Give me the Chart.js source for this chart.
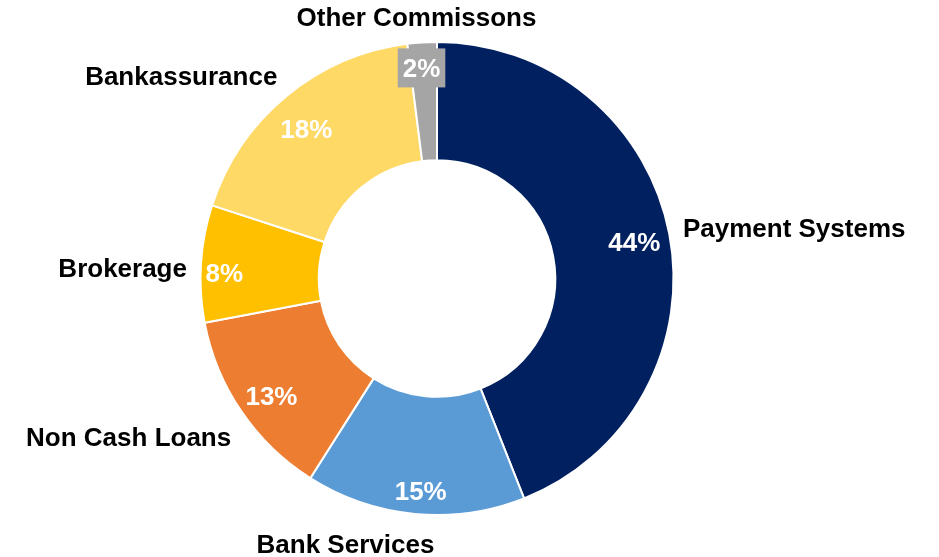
<!DOCTYPE html>
<html>
<head>
<meta charset="utf-8">
<script src="https://cdn.jsdelivr.net/npm/chart.js@4.4.1/dist/chart.umd.min.js"></script>
<style>
  html, body { margin: 0; padding: 0; background: #fff; }
  #wrap { width: 939px; height: 557px; position: relative; }
</style>
</head>
<body>
<div id="wrap"><canvas id="feesChart"></canvas></div>
<script>
// commission income breakdown, clockwise from 12 o'clock
const categories = ["Payment Systems", "Bank Services", "Non Cash Loans", "Brokerage", "Bankassurance", "Other Commissons"];
const shares = [44, 15, 13, 8, 18, 2];
const sliceColors = ["#002060", "#5B9BD5", "#ED7D31", "#FFC000", "#FFD966", "#A5A5A5"];

// label placement: nudges (px) from the computed anchor points
const pctNudge = [[-4, 2], [3, 8], [4, 2], [-8, 7], [0, 8.5], [-2.6, -6]];
const nameAlign = ["left", "center", "right", "right", "right", "center"];
const nameNudge = [[13.6, -6.9], [-69.3, 29.5], [-10.2, 25.6], [-14, 4.3], [-8.9, -21], [-5.7, -25.5]];

const FONT = "bold 26px 'Liberation Sans', Arial, sans-serif";
const CAP_HALF = 9.3; // half of the cap height, so text centres on its caps

const sliceLabels = {
    id: "sliceLabels",
    afterDatasetsDraw(chart) {
        const ctx = chart.ctx;
        const arcs = chart.getDatasetMeta(0).data;
        ctx.save();
        ctx.font = FONT;
        arcs.forEach((arc, i) => {
            const p = arc.getProps(["x", "y", "startAngle", "endAngle", "innerRadius", "outerRadius"], true);
            const mid = (p.startAngle + p.endAngle) / 2;
            const cos = Math.cos(mid), sin = Math.sin(mid);

            // percentage inside the ring
            const rIn = 205;
            const px = p.x + cos * rIn + pctNudge[i][0];
            const py = p.y + sin * rIn + pctNudge[i][1];
            const pctText = shares[i] + "%";
            if (shares[i] < 5) {
                // small slice: label gets a filled box in the slice colour
                const w = ctx.measureText(pctText).width;
                ctx.fillStyle = sliceColors[i];
                ctx.fillRect(px - w / 2 - 5, py - 19.5, w + 10, 39);
            }
            ctx.fillStyle = "#FFFFFF";
            ctx.textAlign = "center";
            ctx.textBaseline = "alphabetic";
            ctx.fillText(pctText, px, py + CAP_HALF);

            // category name outside the ring
            const nx = p.x + cos * p.outerRadius + nameNudge[i][0];
            const ny = p.y + sin * p.outerRadius + nameNudge[i][1];
            ctx.fillStyle = "#000000";
            ctx.textAlign = nameAlign[i];
            ctx.fillText(categories[i], nx, ny + CAP_HALF);
        });
        ctx.restore();
    }
};

new Chart(document.getElementById("feesChart"), {
    type: "doughnut",
    data: {
        labels: categories,
        datasets: [{
            data: shares,
            backgroundColor: sliceColors,
            borderColor: "#FFFFFF",
            borderWidth: 2
        }]
    },
    options: {
        responsive: true,
        maintainAspectRatio: false,
        devicePixelRatio: 1,
        animation: false,
        radius: 236.5,
        cutout: "50%",
        layout: {
            padding: { left: 150, right: 215, top: 0, bottom: 0 }
        },
        plugins: {
            legend: { display: false },
            tooltip: { enabled: false }
        }
    },
    plugins: [sliceLabels]
});
</script>
</body>
</html>
